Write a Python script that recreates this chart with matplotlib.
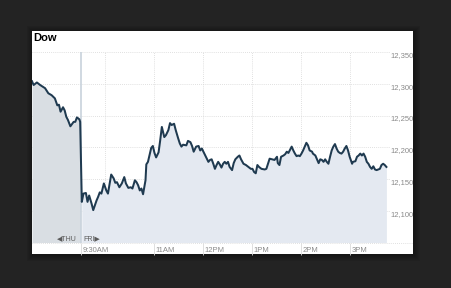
import matplotlib
matplotlib.use('Agg')
import matplotlib.pyplot as plt
import matplotlib.transforms as mtransforms
from matplotlib.patches import Rectangle

plt.rcParams['font.family'] = ['Liberation Sans', 'DejaVu Sans']

# Thursday's last hour (minutes relative to Friday 9:30AM open)
thu_minutes = [-60, -58, -54, -50, -44, -40, -36, -32, -29, -27, -25, -22, -20,
               -18, -16, -13, -9, -7, -5, -2, -1]
thu_values = [12304, 12298, 12302, 12298, 12293, 12285, 12282, 12277, 12266,
              12267, 12256, 12263, 12258, 12248, 12243, 12233, 12240, 12240,
              12247, 12244, 12240]

# Friday session (minutes after 9:30AM)
fri_minutes = [1, 3, 6, 8, 10, 13, 15, 19, 21, 23, 25, 28, 31, 33, 37, 40, 42, 44,
               47, 50, 53, 55, 58, 61, 63, 66, 68, 70, 72, 74, 76, 79, 80, 82, 86,
               88, 90, 92, 95, 97, 99, 102, 104, 107, 109, 111, 114, 116, 119, 121,
               123, 125, 129, 131, 134, 136, 138, 141, 144, 146, 148, 151, 153, 156,
               158, 160, 162, 164, 166, 168, 170, 172, 174, 176, 178, 180, 182, 185,
               187, 189, 192, 194, 196, 199, 202, 205, 208, 210, 212, 214, 216, 218,
               221, 225, 227, 229, 231, 234, 237, 240, 241, 243, 245, 248, 250, 252,
               254, 256, 258, 260, 262, 264, 266, 268, 270, 272, 274, 276, 278, 280,
               283, 284, 287, 289, 291, 293, 295, 297, 299, 301, 303, 305, 307, 309,
               311, 313, 315, 317, 319, 321, 323, 325, 327, 329, 332, 333, 336, 338,
               340, 342, 344, 346, 348, 350, 352, 354, 356, 358, 360, 362, 364, 366,
               368, 370, 372, 374]
fri_values = [12114, 12127, 12128, 12114, 12124, 12111, 12101, 12116, 12122, 12129,
              12127, 12143, 12132, 12127, 12157, 12151, 12144, 12145, 12137, 12143,
              12153, 12143, 12136, 12137, 12135, 12148, 12145, 12140, 12132, 12135,
              12126, 12148, 12173, 12177, 12199, 12202, 12191, 12184, 12192, 12211,
              12232, 12216, 12219, 12227, 12238, 12235, 12237, 12227, 12214, 12206,
              12201, 12204, 12203, 12210, 12208, 12202, 12193, 12201, 12202, 12195,
              12198, 12190, 12185, 12177, 12180, 12181, 12174, 12166, 12172, 12177,
              12173, 12168, 12174, 12177, 12174, 12177, 12169, 12164, 12175, 12181,
              12185, 12187, 12181, 12174, 12172, 12169, 12166, 12166, 12161, 12159,
              12172, 12169, 12166, 12165, 12166, 12174, 12182, 12181, 12180, 12185,
              12175, 12172, 12185, 12187, 12189, 12193, 12191, 12196, 12201, 12195,
              12190, 12186, 12187, 12186, 12190, 12195, 12201, 12207, 12203, 12195,
              12193, 12190, 12187, 12181, 12175, 12181, 12180, 12177, 12181, 12177,
              12174, 12185, 12195, 12201, 12205, 12198, 12193, 12191, 12190, 12193,
              12198, 12202, 12195, 12185, 12174, 12177, 12178, 12185, 12187, 12190,
              12187, 12190, 12185, 12177, 12174, 12169, 12166, 12170, 12165, 12164,
              12165, 12166, 12172, 12174, 12172, 12169]

x_tick_minutes = [0, 90, 150, 210, 270, 330]
x_tick_labels = ['9:30AM', '11AM', '12PM', '1PM', '2PM', '3PM']
hour_grid = [30, 90, 150, 210, 270, 330]
y_ticks = [12100, 12150, 12200, 12250, 12300, 12350]
y_tick_labels = ['12,100', '12,150', '12,200', '12,250', '12,300', '12,350']

W, H = 451, 288
fig = plt.figure(figsize=(W / 100, H / 100), dpi=100)
fig.patch.set_facecolor('#232323')

# soft shadow behind the card
for i in range(6, 0, -1):
    fig.patches.append(Rectangle(((32 - i + 1) / W, (34 - i - 1) / H),
                                 (381 + 2 * i) / W, (223 + 2 * i) / H,
                                 transform=fig.transFigure, facecolor='black',
                                 alpha=0.06, lw=0, zorder=-5))

# white card
panel = fig.add_axes([32 / W, 34 / H, 381 / W, 223 / H])
panel.set_facecolor('white')
panel.set_xlim(0, 1)
panel.set_ylim(0, 1)
panel.set_xticks([])
panel.set_yticks([])
for s in panel.spines.values():
    s.set_visible(False)

# plot area
ax = fig.add_axes([32 / W, 45.5 / H, 358 / W, 190.5 / H])
ax.set_facecolor('none')
ax.set_xlim(-60, 378.4)
ax.set_ylim(12050, 12350)
for s in ax.spines.values():
    s.set_visible(False)

grid_style = dict(color='#d6d6d6', lw=0.6, linestyle=(0, (1, 1.5)), zorder=0)
for v in y_ticks:
    ax.axhline(v, **grid_style)
for m in hour_grid:
    ax.axvline(m, **grid_style)

ax.fill_between(thu_minutes, thu_values, 12050, color='#d9dee3', lw=0, zorder=1)
ax.fill_between(fri_minutes, fri_values, 12050, color='#e4e9f1', lw=0, zorder=1)
ax.axvline(0, color='#c8d2dc', lw=1.2, zorder=2)
ax.plot(thu_minutes + fri_minutes, thu_values + fri_values, color='#1f3a50',
        lw=1.45, solid_joinstyle='round', zorder=3)

ax.set_yticks([])
ax.set_xticks(x_tick_minutes)
ax.tick_params(axis='x', length=8.3, width=0.6, color='#d9d9d9', labelbottom=False)

xlab_trans = mtransforms.blended_transform_factory(ax.transData, ax.transAxes)
for m, lab in zip(x_tick_minutes, x_tick_labels):
    ax.text(m + 1.6, -0.043, lab, transform=xlab_trans, ha='left', va='center',
            fontsize=5.5, color='#8a8a8a')

ax.text(-5.5, 0.019, '\u25c0THU', transform=xlab_trans, ha='right', va='center',
        fontsize=5, color='#5a5a5a')
ax.text(2.4, 0.019, 'FRI\u25b6', transform=xlab_trans, ha='left', va='center',
        fontsize=5, color='#5a5a5a')

# y labels on the right, cut by the card edge
ylab_trans = mtransforms.blended_transform_factory(panel.transAxes, ax.transData)
for v, lab in zip(y_ticks, y_tick_labels):
    panel.text(0.9415, v, lab, transform=ylab_trans, ha='left', va='top',
               fontsize=5.5, color='#8a8a8a', clip_on=True)

# dotted bottom line across the card
panel.plot([0, 1], [11.5 / 223, 11.5 / 223], color='#d6d6d6', lw=0.6,
           linestyle=(0, (1, 1.5)))

panel.text(0.003, 0.992, 'Dow', ha='left', va='top', fontsize=8,
           fontweight='bold', color='black')

fig.savefig('out.png', dpi=100, facecolor=fig.get_facecolor())
